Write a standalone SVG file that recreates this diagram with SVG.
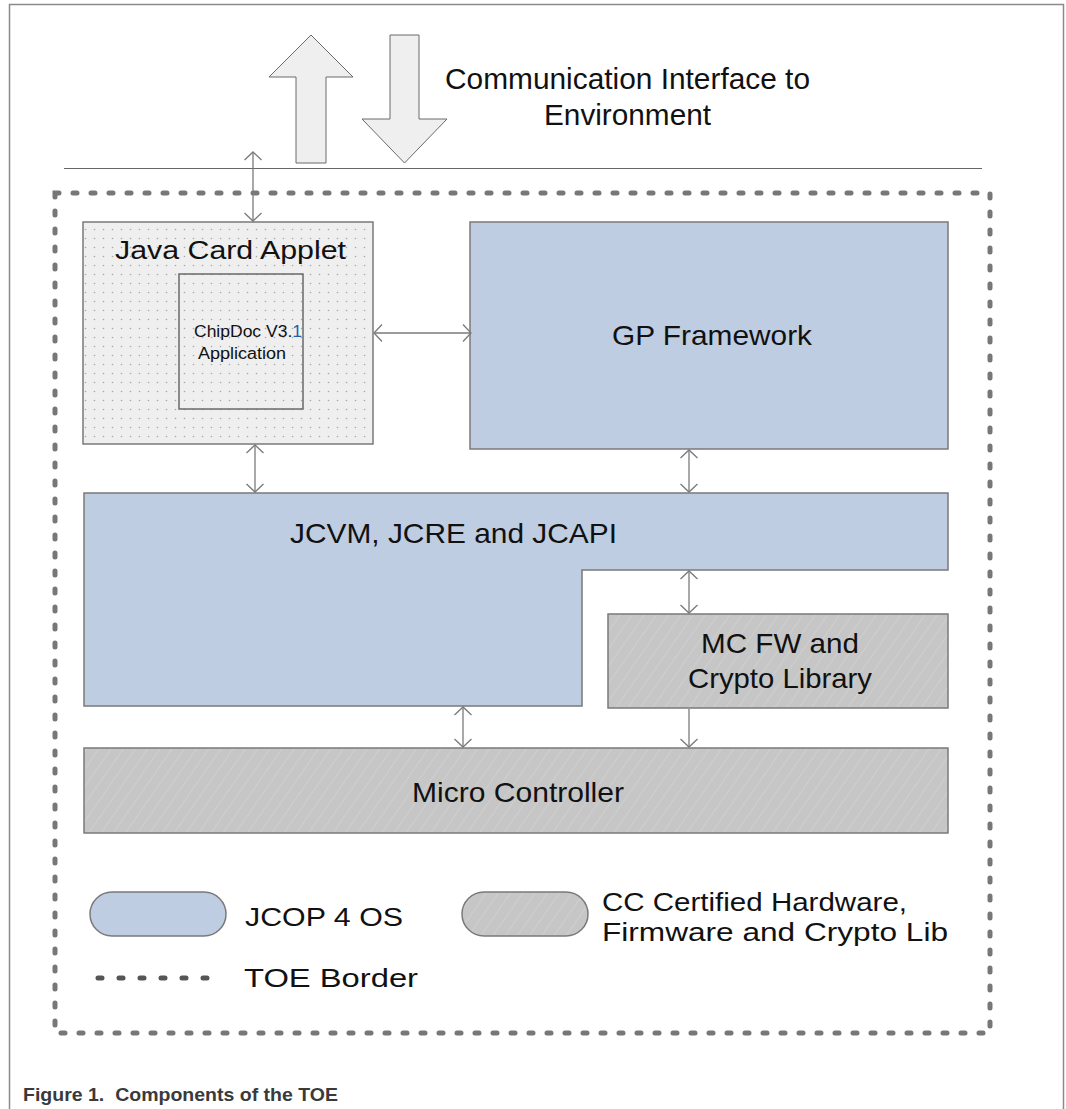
<svg xmlns="http://www.w3.org/2000/svg" width="1066" height="1109" viewBox="0 0 1066 1109">
<style>
.t{font-family:"Liberation Sans",Arial,sans-serif;fill:#111}
.blue{fill:#bfcde2;stroke:#7a7a7a;stroke-width:1.5}
.hw{fill:url(#hatch);stroke:#7a7a7a;stroke-width:1.5}
.conn{stroke:#7a7a7a;stroke-width:1.3;fill:none}
.big{fill:#efefef;stroke:#6a6a6a;stroke-width:1}
.toe{fill:none;stroke:#777;stroke-width:5;stroke-linecap:round;stroke-dasharray:4 14}
</style>
<defs>
<pattern id="hatch" patternUnits="userSpaceOnUse" width="10" height="10" patternTransform="rotate(35)">
<rect width="10" height="10" fill="#c6c6c6"/>
<line x1="0" y1="0" x2="0" y2="10" stroke="#d6d6d6" stroke-width="1.2"/>
</pattern>
<pattern id="dots" patternUnits="userSpaceOnUse" width="9" height="9">
<rect width="9" height="9" fill="#efefef"/>
<circle cx="4.5" cy="4.5" r="0.8" fill="#a8a8a8"/>
</pattern>
<marker id="ah" markerUnits="userSpaceOnUse" markerWidth="20" markerHeight="20" viewBox="-10 -10 20 20" refX="0" refY="0" orient="auto-start-reverse">
<path d="M-8,-8.5 L0,0 L-8,8.5" fill="none" stroke="#7a7a7a" stroke-width="1.3"/>
</marker>
</defs>
<rect x="0" y="0" width="1066" height="1109" fill="#fff"/>
<path d="M9.5,1109 V4.5 H1063.5 V1109" fill="none" stroke="#8a8a8a" stroke-width="1.5"/>

<g id="interface">
<polygon class="big" points="311,35 353,77 326,77 326,163 296,163 296,77 269,77"/>
<polygon class="big" points="390,35 419,35 419,119 447,119 404.5,163 362,119 390,119"/>
<text class="t" x="627.5" y="89" font-size="29" text-anchor="middle" textLength="365" lengthAdjust="spacingAndGlyphs">Communication Interface to</text>
<text class="t" x="627.5" y="125" font-size="29" text-anchor="middle" textLength="167" lengthAdjust="spacingAndGlyphs">Environment</text>
<line x1="64" y1="168.5" x2="982" y2="168.5" stroke="#666" stroke-width="1"/>
</g>

<g id="toe-border">
<rect class="toe" x="55" y="193" width="935" height="840"/>
</g>

<g id="java-card-applet">
<rect x="83" y="222" width="290" height="222" fill="url(#dots)" stroke="#7a7a7a" stroke-width="1.5"/>
<text class="t" x="230.5" y="259" font-size="26" text-anchor="middle" textLength="231" lengthAdjust="spacingAndGlyphs">Java Card Applet</text>
</g>

<g id="chipdoc">
<rect x="179" y="274" width="124" height="135" fill="none" stroke="#6a6a6a" stroke-width="1.5"/>
<text class="t" x="194" y="337" font-size="16" textLength="108" lengthAdjust="spacingAndGlyphs">ChipDoc V3.<tspan fill="#1f5fa8">1</tspan></text>
<text class="t" x="198" y="359" font-size="16" textLength="88" lengthAdjust="spacingAndGlyphs">Application</text>
</g>

<g id="gp-framework">
<rect class="blue" x="470" y="222" width="478" height="227"/>
<text class="t" x="712" y="345" font-size="28" text-anchor="middle" textLength="200" lengthAdjust="spacingAndGlyphs">GP Framework</text>
</g>

<g id="jcvm">
<path class="blue" d="M84,493 H948 V570 H582 V706 H84 Z"/>
<text class="t" x="290" y="543" font-size="28" textLength="327" lengthAdjust="spacingAndGlyphs">JCVM, JCRE and JCAPI</text>
</g>

<g id="mc-fw">
<rect class="hw" x="608" y="614" width="340" height="94"/>
<text class="t" x="780" y="653" font-size="28" text-anchor="middle" textLength="158" lengthAdjust="spacingAndGlyphs">MC FW and</text>
<text class="t" x="780" y="688" font-size="28" text-anchor="middle" textLength="184" lengthAdjust="spacingAndGlyphs">Crypto Library</text>
</g>

<g id="micro-controller">
<rect class="hw" x="84" y="748" width="864" height="85"/>
<text class="t" x="518" y="802" font-size="28" text-anchor="middle" textLength="212" lengthAdjust="spacingAndGlyphs">Micro Controller</text>
</g>

<g id="connectors">
<line class="conn" x1="253" y1="152" x2="253" y2="221" marker-start="url(#ah)" marker-end="url(#ah)"/>
<line class="conn" x1="374" y1="333" x2="471" y2="333" marker-start="url(#ah)" marker-end="url(#ah)"/>
<line class="conn" x1="255" y1="445" x2="255" y2="492" marker-start="url(#ah)" marker-end="url(#ah)"/>
<line class="conn" x1="689" y1="450" x2="689" y2="492" marker-start="url(#ah)" marker-end="url(#ah)"/>
<line class="conn" x1="689" y1="571" x2="689" y2="613" marker-start="url(#ah)" marker-end="url(#ah)"/>
<line class="conn" x1="463" y1="707" x2="463" y2="747" marker-start="url(#ah)" marker-end="url(#ah)"/>
<line class="conn" x1="689" y1="709" x2="689" y2="747" marker-end="url(#ah)"/>
</g>

<g id="legend">
<rect class="blue" x="90" y="892" width="136" height="44" rx="22" ry="22" stroke="#666"/>
<text class="t" x="245" y="926" font-size="26" textLength="158" lengthAdjust="spacingAndGlyphs">JCOP 4 OS</text>
<rect class="hw" x="462" y="892" width="126" height="44" rx="22" ry="22" stroke="#666"/>
<text class="t" x="602" y="911" font-size="26" textLength="305" lengthAdjust="spacingAndGlyphs">CC Certified Hardware,</text>
<text class="t" x="602" y="941" font-size="26" textLength="346" lengthAdjust="spacingAndGlyphs">Firmware and Crypto Lib</text>
<line x1="98" y1="978" x2="224" y2="978" stroke="#555" stroke-width="5" stroke-linecap="round" stroke-dasharray="4 17"/>
<text class="t" x="244" y="987" font-size="26" textLength="174" lengthAdjust="spacingAndGlyphs">TOE Border</text>
</g>

<text x="23" y="1101" font-family="'Liberation Sans',Arial,sans-serif" font-weight="bold" font-size="19" fill="#3a3a3a" textLength="315" lengthAdjust="spacingAndGlyphs" xml:space="preserve">Figure 1.  Components of the TOE</text>
</svg>
